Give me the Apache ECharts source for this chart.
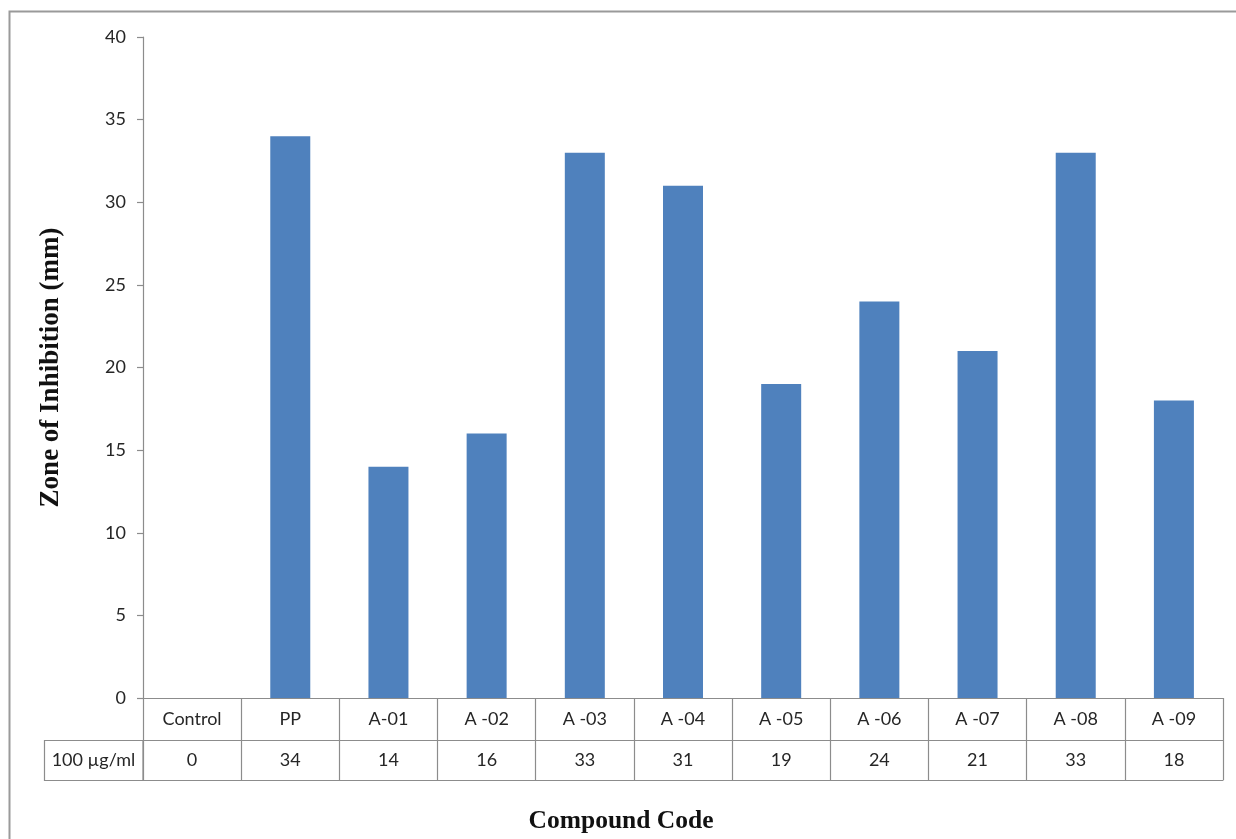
<!DOCTYPE html>
<html>
<head>
<meta charset="utf-8">
<script src="https://cdn.jsdelivr.net/npm/echarts@6/dist/echarts.min.js"></script>
<style>
  html, body { margin: 0; padding: 0; background: #fff; }
  #chart { width: 1236px; height: 839px; }
</style>
</head>
<body>
<div id="chart"></div>
<script>
// Compounds tested and their zone of inhibition at 100 µg/ml
const categories = ['Control', 'PP', 'A-01', 'A -02', 'A -03', 'A -04', 'A -05', 'A -06', 'A -07', 'A -08', 'A -09'];
const zoneValues = [0, 34, 14, 16, 33, 31, 19, 24, 21, 33, 18];
const yTicks = [0, 5, 10, 15, 20, 25, 30, 35, 40];
const rowLabel = '100 µg/ml';

const lineColor = '#8c8c8c';
const textColor = '#262626';
const sansFont = 'Lato, "Liberation Sans", sans-serif';
const serifFont = '"Liberation Serif", "DejaVu Serif", serif';

const chart = echarts.init(document.getElementById('chart'), null, { renderer: 'canvas' });

const gridLeft = 143, gridRight = 13, gridTop = 37, gridBottom = 141;
const rowH1 = 42, rowH2 = 40;

chart.setOption({
  animation: false,
  backgroundColor: '#ffffff',
  title: {
    text: 'Compound Code',
    left: 616,
    top: 803,
    textAlign: 'center',
    textStyle: { fontFamily: serifFont, fontWeight: 'bold', fontSize: 25.5, color: '#111' }
  },
  grid: { left: gridLeft, right: gridRight, top: gridTop, bottom: gridBottom, containLabel: false },
  xAxis: [
    {
      // category row of the data table
      type: 'category',
      data: categories,
      position: 'bottom',
      axisLine: { show: true, lineStyle: { color: lineColor, width: 1.2 } },
      axisTick: { show: true, interval: 0, length: rowH1 + rowH2, lineStyle: { color: lineColor, width: 1.2 } },
      axisLabel: { interval: 0, margin: 12, fontSize: 18, color: textColor, fontFamily: sansFont }
    },
    {
      // value row of the data table
      type: 'category',
      data: zoneValues.map(String),
      position: 'bottom',
      offset: rowH1,
      axisLine: { show: true, lineStyle: { color: lineColor, width: 1.2 } },
      axisTick: { show: false },
      axisLabel: { interval: 0, margin: 11, fontSize: 18, color: textColor, fontFamily: sansFont }
    },
    {
      // bottom edge of the data table
      type: 'category',
      data: categories,
      position: 'bottom',
      offset: rowH1 + rowH2,
      axisLine: { show: true, lineStyle: { color: lineColor, width: 1.2 } },
      axisTick: { show: false },
      axisLabel: { show: false }
    }
  ],
  yAxis: {
    type: 'value',
    min: yTicks[0],
    max: yTicks[yTicks.length - 1],
    interval: yTicks[1] - yTicks[0],
    name: 'Zone of Inhibition (mm)',
    nameLocation: 'middle',
    nameGap: 78,
    nameRotate: 90,
    nameTextStyle: { fontFamily: serifFont, fontWeight: 'bold', fontSize: 27, color: '#111' },
    axisLine: { show: true, lineStyle: { color: lineColor, width: 1.2 } },
    axisTick: { show: true, length: 6, lineStyle: { color: lineColor, width: 1.2 } },
    axisLabel: { margin: 17, fontSize: 18, color: textColor, fontFamily: sansFont },
    splitLine: { show: false }
  },
  series: [{
    type: 'bar',
    xAxisIndex: 0,
    data: zoneValues,
    barWidth: 40,
    itemStyle: { color: '#4f81bd' }
  }],
  graphic: [
    {
      // outer chart frame
      type: 'rect',
      shape: { x: 9.5, y: 11.5, width: 1260, height: 860 },
      style: { fill: 'none', stroke: '#9a9a9a', lineWidth: 2 },
      silent: true
    },
    {
      // row header cell of the data table
      type: 'rect',
      shape: { x: 44.5, y: 839 - gridBottom + rowH1 + 0.5, width: gridLeft - 44.5, height: rowH2 },
      style: { fill: 'none', stroke: lineColor, lineWidth: 1.2 },
      silent: true
    },
    {
      type: 'text',
      x: (44 + gridLeft) / 2,
      y: 839 - gridBottom + rowH1 + rowH2 / 2,
      style: {
        text: rowLabel, align: 'center', verticalAlign: 'middle',
        fontSize: 18, fill: textColor, fontFamily: sansFont
      },
      silent: true
    }
  ]
});
</script>
</body>
</html>
